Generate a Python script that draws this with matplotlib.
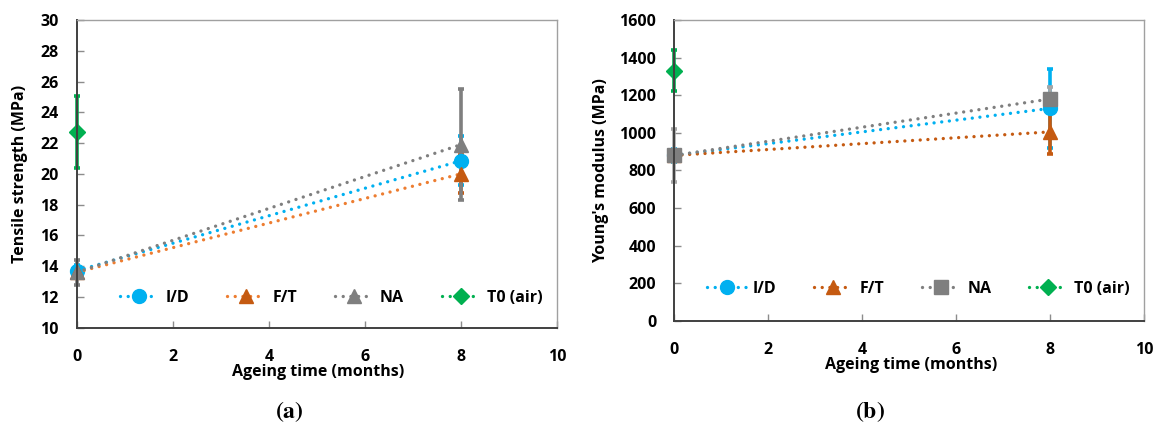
import matplotlib
matplotlib.use('Agg')
import matplotlib.pyplot as plt

BLUE = '#00b0f0'
ORANGE_LINE = '#ed7d31'
ORANGE = '#c55a11'
GREY = '#7f7f7f'
GREEN = '#00b050'

plt.rcParams.update({
    'font.family': ['Open Sans', 'DejaVu Sans'],
    'font.weight': 'bold',
    'font.size': 11,
    'mathtext.fontset': 'stix',
})

months = [0, 8]
series = ['I/D', 'F/T', 'NA', 'T0 (air)']

# (a) tensile strength, MPa
ts_id = [13.7, 20.85]
ts_id_err = [0.35, 1.6]
ts_ft = [13.6, 20.0]
ts_ft_err = [0.3, 1.25]
ts_na = [13.6, 21.9]
ts_na_err = [0.8, 3.6]
ts_t0 = [22.7]
ts_t0_err = [2.35]

# (b) Young's modulus, MPa
ym_id = [880, 1130]
ym_id_err = [35, 210]
ym_ft = [880, 1005]
ym_ft_err = [30, 120]
ym_na = [880, 1180]
ym_na_err = [140, 65]
ym_t0 = [1330]
ym_t0_err = [110]

fig = plt.figure(figsize=(11.54, 4.25), dpi=100)
ax1 = fig.add_axes([0.0665, 0.229, 0.4163, 0.724])
ax2 = fig.add_axes([0.5843, 0.245, 0.4073, 0.708])


def draw(ax, d_id, e_id, d_ft, e_ft, ft_line, d_na, e_na, na_marker, na_err_col, d_t0, e_t0):
    kw = dict(linewidth=2.4, elinewidth=2.6, capsize=2.5, capthick=2.6)
    h1 = ax.errorbar(months, d_id, yerr=e_id, color=BLUE, marker='o', markersize=10, **kw)
    h2 = ax.errorbar(months, d_ft, yerr=e_ft, color=ft_line, marker='^', markersize=10,
                     mfc=ORANGE, mec=ORANGE, ecolor=ORANGE, **kw)
    h3 = ax.errorbar(months, d_na, yerr=e_na, color=GREY, marker=na_marker, markersize=10,
                     ecolor=na_err_col, **kw)
    h4 = ax.errorbar([0], d_t0, yerr=e_t0, color=GREEN, marker='D', markersize=8.5, **kw)
    handles = []
    for h in (h1, h2, h3, h4):
        ln = h[0]
        ln.set_linestyle((0, (0.01, 2.3)))
        ln.set_dash_capstyle('round')
        handles.append(ln)
    ax.set_xlim(0, 10)
    ax.set_xticks([0, 2, 4, 6, 8, 10])
    ax.tick_params(axis='both', direction='in', color='#8c8c8c', length=5, width=1,
                   labelsize=11.5, labelcolor='black')
    ax.tick_params(axis='x', pad=15)
    ax.tick_params(axis='y', pad=13)
    for s in ['left', 'bottom']:
        ax.spines[s].set_color('#404040')
        ax.spines[s].set_linewidth(1.4)
    for s in ['top', 'right']:
        ax.spines[s].set_color('#a0a0a0')
        ax.spines[s].set_linewidth(1.0)
    for lab in ax.get_xticklabels() + ax.get_yticklabels():
        lab.set_fontweight('bold')
    ax.set_xlabel('Ageing time (months)', fontsize=11.5, fontweight='bold')
    leg = ax.legend(handles, series, ncol=4, loc='center',
                    frameon=False, handlelength=2.4, handletextpad=0.45,
                    columnspacing=2.35, fontsize=11.5)
    for t in leg.get_texts():
        t.set_fontweight('bold')
    for c in ax.get_children():
        c.set_clip_on(False)
    return leg


leg1 = draw(ax1, ts_id, ts_id_err, ts_ft, ts_ft_err, ORANGE_LINE, ts_na, ts_na_err, '^', GREY,
            ts_t0, ts_t0_err)
leg1.set_bbox_to_anchor((0.53, 0.097), transform=ax1.transAxes)
ax1.set_ylim(10, 30)
ax1.set_yticks(range(10, 31, 2))
ax1.set_ylabel('Tensile strength (MPa)', fontsize=11.5, fontweight='bold')
ax1.yaxis.set_label_coords(-0.102, 0.5)
ax1.xaxis.set_label_coords(0.503, -0.118)

leg2 = draw(ax2, ym_id, ym_id_err, ym_ft, ym_ft_err, ORANGE, ym_na, ym_na_err, 's', '#a6a6a6',
            ym_t0, ym_t0_err)
leg2.set_bbox_to_anchor((0.52, 0.106), transform=ax2.transAxes)
ax2.set_ylim(0, 1600)
ax2.set_yticks(range(0, 1601, 200))
ax2.set_ylabel("Young's modulus (MPa)", fontsize=11.5, fontweight='bold')
ax2.yaxis.set_label_coords(-0.138, 0.5)
ax2.xaxis.set_label_coords(0.504, -0.121)

fig.text(0.251, 0.031, r'($\mathbf{a}$)', fontsize=17, family='STIXGeneral', ha='center', va='center')
fig.text(0.754, 0.031, r'($\mathbf{b}$)', fontsize=17, family='STIXGeneral', ha='center', va='center')

fig.savefig('out.png', dpi=100)
